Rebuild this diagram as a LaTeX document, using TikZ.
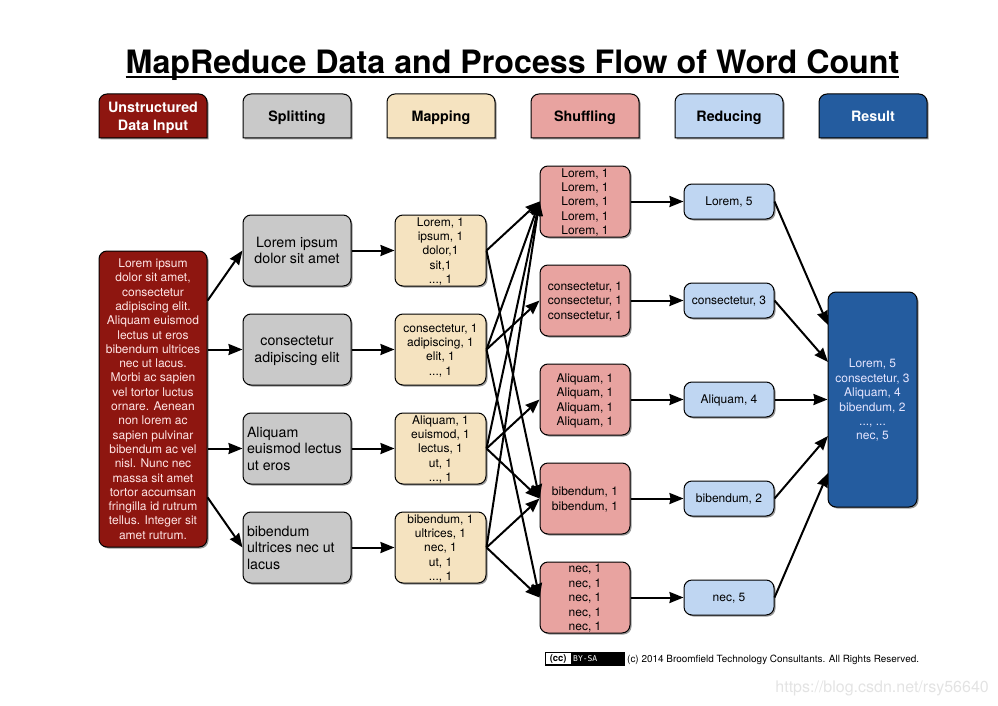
\documentclass[tikz,border=0pt]{standalone}
\usepackage{fontspec}
\setmainfont{TeX Gyre Heros}
\newfontfamily\badgefont{DejaVu Sans Mono}
\usetikzlibrary{arrows.meta, shadows, calc}

\definecolor{inputred}{HTML}{8E1610}
\definecolor{splitgray}{HTML}{C9C9C9}
\definecolor{maptan}{HTML}{F5E3C0}
\definecolor{shufflepink}{HTML}{E8A3A0}
\definecolor{reduceblue}{HTML}{BFD6F2}
\definecolor{resultblue}{HTML}{245C9F}

\tikzset{
  boxshadow/.style={drop shadow={shadow xshift=1.5pt, shadow yshift=-1.5pt, opacity=0.4, fill=black}},
  basebox/.style={draw=black, line width=1pt, rounded corners=8pt, inner sep=0pt, align=center, text depth=0pt, boxshadow},
  headshape/.style={draw=black, line width=1pt, boxshadow},
  headtext/.style={inner sep=0pt, align=center, text depth=0pt, font=\fontsize{14.3}{18}\selectfont\bfseries},
  inputbox/.style={basebox, fill=inputred, text=white!90!red, minimum width=108pt, minimum height=296pt, font=\fontsize{12}{14.3}\selectfont},
  splitbox/.style={basebox, fill=splitgray, minimum width=108pt, minimum height=71pt, font=\fontsize{14.2}{16.6}\selectfont},
  mapbox/.style={basebox, fill=maptan, minimum width=91pt, minimum height=71pt, font=\fontsize{12}{14.4}\selectfont},
  shufflebox/.style={basebox, fill=shufflepink, minimum width=90pt, minimum height=71pt, font=\fontsize{12}{14.4}\selectfont},
  reducebox/.style={basebox, fill=reduceblue, minimum width=90pt, minimum height=35pt, font=\fontsize{12}{14.4}\selectfont},
  resultbox/.style={basebox, fill=resultblue, text=white!90!blue, minimum width=89pt, minimum height=215pt, font=\fontsize{12}{14.4}\selectfont},
  flow/.style={-{Stealth[length=14pt, width=11pt, inset=1pt]}, line width=2pt},
}

\begin{document}
\begin{tikzpicture}[x=1pt, y=-1pt]
  \useasboundingbox (0, 0) rectangle (998, 706);

  % title
  \node[inner sep=0pt, anchor=base, font=\fontsize{32.2}{36}\selectfont\bfseries] (title) at (512.5, 74) {MapReduce Data and Process Flow of Word Count};
  \draw[line width=2.6pt] ([yshift=-3pt]title.base west) -- ([yshift=-3pt]title.base east);

  % column headers
  \foreach \nm/\xx/\col/\tcol/\txt in {headInput/99/inputred/white/{Unstructured\\Data Input}, headSplit/243/splitgray/black/Splitting, headMap/387/maptan/black/Mapping, headShuffle/531/shufflepink/black/Shuffling, headReduce/675/reduceblue/black/Reducing, headResult/819/resultblue/white/Result} {
    \draw[headshape, fill=\col] [rounded corners=8pt] (\xx, 138) -- (\xx, 94) -- (\xx + 108, 94) -- (\xx + 108, 116) [sharp corners] -- (\xx + 108, 138) -- cycle;
    \node[headtext, text=\tcol] (\nm) at (\xx + 54, 116) {\txt};
  }

  % input
  \node[inputbox] (input) at (153, 399) {Lorem ipsum\\dolor sit amet,\\consectetur\\adipiscing elit.\\Aliquam euismod\\lectus ut eros\\bibendum ultrices\\nec ut lacus.\\Morbi ac sapien\\vel tortor luctus\\ornare. Aenean\\non lorem ac\\sapien pulvinar\\bibendum ac vel\\nisl. Nunc nec\\massa sit amet\\tortor accumsan\\fringilla id rutrum\\tellus. Integer sit\\amet rutrum.};

  % splitting and mapping
  \foreach \nm/\yy/\al/\stxt/\mtxt in {
    A/250.5/center/{Lorem ipsum\\dolor sit amet}/{Lorem, 1\\ipsum, 1\\dolor,1\\sit,1\\..., 1},
    B/349.5/center/{consectetur\\adipiscing elit}/{consectetur, 1\\adipiscing, 1\\elit, 1\\..., 1},
    C/448.5/left/{Aliquam\\\makebox[100pt][l]{euismod lectus}\\ut eros}/{Aliquam, 1\\euismod, 1\\lectus, 1\\ut, 1\\..., 1},
    D/547.5/left/{bibendum\\\makebox[100pt][l]{ultrices nec ut}\\lacus}/{bibendum, 1\\ultrices, 1\\nec, 1\\ut, 1\\..., 1}} {
    \node[splitbox, align=\al] (split\nm) at (297, \yy) {\stxt};
    \node[mapbox] (map\nm) at (440.5, \yy) {\mtxt};
  }

  % shuffling and reducing
  \foreach \nm/\yy/\stxt/\rtxt in {
    A/201.5/{Lorem, 1\\Lorem, 1\\Lorem, 1\\Lorem, 1\\Lorem, 1}/{Lorem, 5},
    B/300.5/{consectetur, 1\\consectetur, 1\\consectetur, 1}/{consectetur, 3},
    C/399.5/{Aliquam, 1\\Aliquam, 1\\Aliquam, 1\\Aliquam, 1}/{Aliquam, 4},
    D/498.5/{bibendum, 1\\bibendum, 1}/{bibendum, 2},
    E/597.5/{nec, 1\\nec, 1\\nec, 1\\nec, 1\\nec, 1}/{nec, 5}} {
    \node[shufflebox] (shuffle\nm) at (585, \yy) {\stxt};
    \node[reducebox] (reduce\nm) at (729, \yy) {\rtxt};
  }

  % result
  \node[resultbox] (result) at (872.5, 399.5) {Lorem, 5\\consectetur, 3\\Aliquam, 4\\bibendum, 2\\..., ...\\nec, 5};
  \coordinate (resultA) at (828, 325);
  \coordinate (resultB) at (828, 362);
  \coordinate (resultD) at (828, 436);
  \coordinate (resultE) at (828, 473);

  % connectors
  \draw[flow] (input.61.4) -- (splitA.west);
  \draw[flow] (input.east |- splitB.west) -- (splitB.west);
  \draw[flow] (input.east |- splitC.west) -- (splitC.west);
  \draw[flow] (input.-61.4) -- (splitD.west);
  \foreach \nm in {A, B, C, D} {
    \draw[flow] (split\nm.east) -- (map\nm.west);
  }
  \foreach \from/\to in {A/A, A/D, B/A, B/B, B/E, C/A, C/C, C/D, D/A, D/D, D/E} {
    \draw[flow] (map\from.east) -- (shuffle\to.west);
  }
  \foreach \nm in {A, B, C, D, E} {
    \draw[flow] (shuffle\nm.east) -- (reduce\nm.west);
  }
  \draw[flow] (reduceA.east) -- (resultA);
  \draw[flow] (reduceB.east) -- (resultB);
  \draw[flow] (reduceC.east) -- (result.west);
  \draw[flow] (reduceD.east) -- (resultD);
  \draw[flow] (reduceE.east) -- (resultE);

  % footer
  \node[draw=black, line width=1pt, fill=black, minimum width=79pt, minimum height=13pt, inner sep=0pt] (badge) at (584.5, 658.5) {};
  \node[fill=white, minimum width=25pt, minimum height=11.5pt, inner sep=0pt, anchor=west, font=\fontsize{9.5}{10}\selectfont\bfseries] (badgeCc) at (545.5, 658.5) {(cc)};
  \node[inner sep=0pt, anchor=west, text=white, font=\fontsize{8}{9}\badgefont] (badgeBy) at (573, 658.5) {BY-SA};
  \node[inner sep=0pt, anchor=west, font=\fontsize{9.95}{11}\selectfont] (copyright) at (627, 659.5) {(c) 2014 Broomfield Technology Consultants. All Rights Reserved.};
  \node[inner sep=0pt, anchor=east, text=black!11, font=\fontsize{16}{18}\selectfont] (watermark) at (989, 688) {https://blog.csdn.net/rsy56640};
\end{tikzpicture}
\end{document}
